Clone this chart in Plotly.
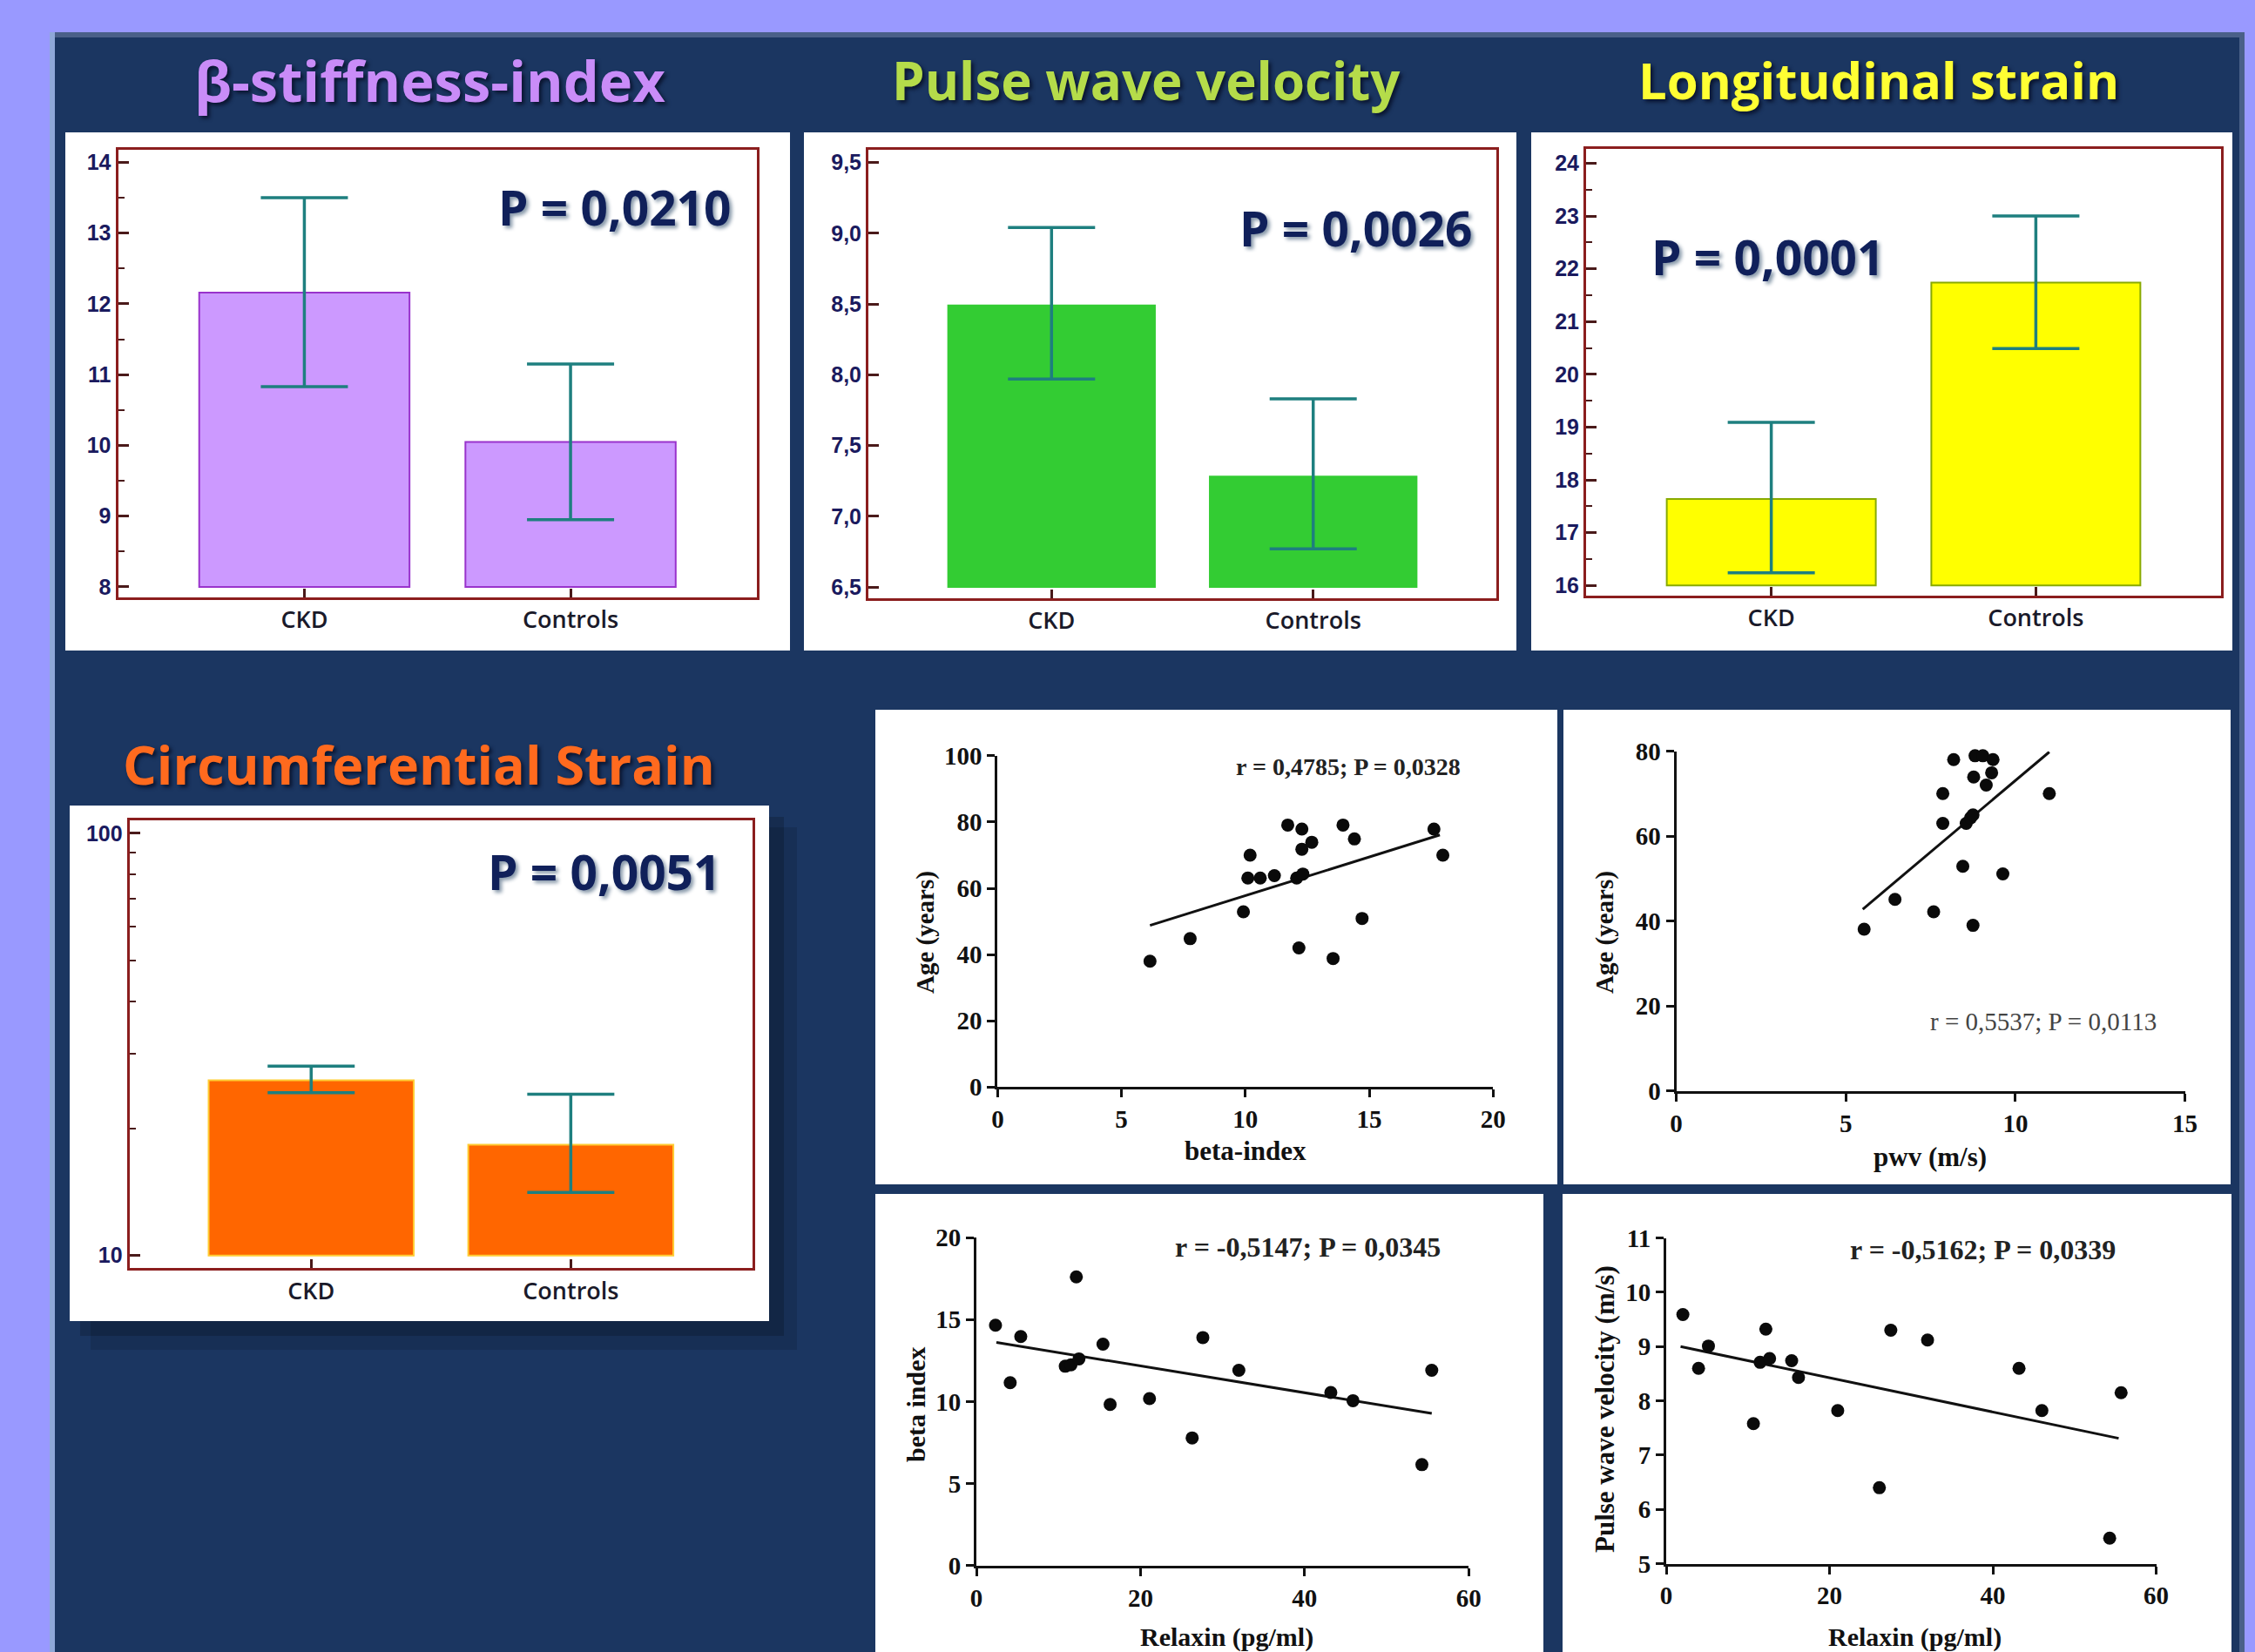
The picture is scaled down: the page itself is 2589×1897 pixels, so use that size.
import plotly.graph_objects as go

W, H = 2589, 1897

# ---------------- data ----------------
categories = ["CKD", "Controls"]

beta_mean = [12.16, 10.05]
beta_hi = [13.50, 11.15]
beta_lo = [10.83, 8.95]

pwv_mean = [8.49, 7.28]
pwv_hi = [9.04, 7.83]
pwv_lo = [7.97, 6.77]

ls_mean = [17.64, 21.74]
ls_hi = [19.09, 23.00]
ls_lo = [16.24, 20.49]

cs_mean = [26.0, 18.3]
cs_hi = [28.1, 24.1]
cs_lo = [24.3, 14.1]

p_values = ["P = 0,0210", "P = 0,0026", "P = 0,0001", "P = 0,0051"]
panel_titles = ["β-stiffness-index", "Pulse wave velocity", "Longitudinal strain", "Circumferential Strain"]

# scatter 1: beta-index vs age
s1_x = [6.15, 7.77, 9.92, 10.19, 10.10, 10.60, 11.17, 11.71, 12.07, 12.28, 12.28, 12.68, 12.32, 12.16, 13.54, 13.94, 14.40, 14.71, 17.61, 17.97]
s1_y = [38.0, 44.8, 52.9, 70.0, 63.1, 63.1, 63.8, 79.1, 63.1, 77.9, 71.8, 73.9, 64.3, 42.0, 38.8, 79.1, 74.9, 50.9, 77.9, 70.0]
fit1_x = [6.15, 17.85]
fit1_y = [48.8, 76.1]

# scatter 2: pwv vs age
s2_x = [5.54, 6.45, 7.59, 7.86, 7.86, 8.18, 8.45, 8.75, 8.77, 8.81, 9.04, 9.34, 9.30, 9.14, 8.55, 8.68, 8.75, 9.63, 11.00]
s2_y = [38.1, 45.1, 42.2, 70.0, 63.0, 78.0, 52.9, 39.0, 73.9, 78.9, 78.9, 78.0, 74.9, 72.0, 63.0, 64.3, 65.0, 51.1, 70.0]
fit2_x = [5.50, 11.00]
fit2_y = [42.8, 79.8]

# scatter 3: relaxin vs beta index
s3_x = [2.33, 4.12, 5.41, 10.83, 11.53, 12.18, 12.50, 15.43, 16.30, 21.10, 26.30, 27.60, 31.99, 43.20, 45.90, 54.30, 55.50]
s3_y = [14.65, 11.15, 13.96, 12.15, 12.24, 17.60, 12.60, 13.50, 9.82, 10.18, 7.78, 13.90, 11.90, 10.55, 10.05, 6.15, 11.90]
fit3_x = [2.44, 55.5]
fit3_y = [13.6, 9.27]

# scatter 4: relaxin vs pulse wave velocity
s4_x = [2.04, 3.96, 5.17, 10.68, 11.50, 12.20, 12.66, 15.36, 16.20, 21.00, 26.10, 27.50, 32.00, 43.20, 46.00, 54.30, 55.70]
s4_y = [9.59, 8.60, 9.01, 7.58, 8.71, 9.32, 8.78, 8.74, 8.43, 7.82, 6.40, 9.30, 9.12, 8.60, 7.82, 5.47, 8.15]
fit4_x = [1.76, 55.4]
fit4_y = [9.00, 7.31]

scatter_stats = ["r = 0,4785; P = 0,0328", "r = 0,5537; P = 0,0113",
                 "r = -0,5147; P = 0,0345", "r = -0,5162; P = 0,0339"]

# ---------------- styling ----------------
OUTER = "#9999FF"
NAVY = "#1B3661"
FRAME = "#8B1E1E"
ERR = "#1E7F7F"
TICKNAVY = "#1A1A5E"
TITLE_FONT = "Open Sans"
SERIF = "Liberation Serif"


def xd(a, b):
    return [a / W, b / W]


def yd(top, bottom):
    return [1 - bottom / H, 1 - top / H]


fig = go.Figure()
layout = {}
shapes = []
annotations = []


def rect(x0, y0, x1, y1, color, opacity=1.0):
    shapes.append(dict(type="rect", xref="paper", yref="paper",
                       x0=x0 / W, x1=x1 / W, y0=1 - y1 / H, y1=1 - y0 / H,
                       fillcolor=color, opacity=opacity,
                       line=dict(width=0), layer="below"))


def text(s, cx, cy, size, color, family, weight="bold", angle=0, shadow=None):
    f = dict(family=family, size=size, color=color, weight=weight)
    if shadow:
        f["shadow"] = shadow
    annotations.append(dict(text=s, x=cx / W, y=1 - cy / H, xref="paper", yref="paper",
                            xanchor="center", yanchor="middle", showarrow=False,
                            textangle=angle, font=f))


# backgrounds: navy poster panel with lighter rims
rect(57, 37, 2577, 1897, "#4A6088")
rect(63, 43, 2571, 1897, NAVY)
rect(57, 37, 63, 1897, "#8FA8D8")

# shadow of circumferential box
rect(104, 950, 915, 1550, "#000000", opacity=0.12)
rect(92, 938, 900, 1534, "#000000", opacity=0.18)

# white boxes
for (x0, y0, x1, y1) in [(75, 152, 907, 747), (923, 152, 1741, 747), (1758, 152, 2563, 747),
                         (80, 925, 883, 1517),
                         (1005, 815, 1788, 1360), (1795, 815, 2561, 1360),
                         (1005, 1371, 1772, 1897), (1794, 1371, 2562, 1897)]:
    rect(x0, y0, x1, y1, "white")


# ---------------- bar panels ----------------
def add_bar_panel(idx, means, his, los, base, color, line_color, xdom, ydom, yrange,
                  ytype="linear", yticks=None, minor=None, tickformat=None, dtick=None, tick0=None):
    s = "" if idx == 1 else str(idx)
    fig.add_trace(go.Bar(
        x=list(range(len(categories))), y=[m - base for m in means], base=base, width=0.79,
        marker=dict(color=color, line=dict(color=line_color, width=2)),
        error_y=dict(type="data", symmetric=False,
                     array=[h - m for h, m in zip(his, means)],
                     arrayminus=[m - l for m, l in zip(means, los)],
                     color=ERR, thickness=3.5, width=50),
        xaxis="x" + s, yaxis="y" + s, showlegend=False, hoverinfo="skip"))
    layout["xaxis" + s] = dict(
        domain=xdom, range=[-0.70, 1.70], tickmode="array", automargin=False,
        tickvals=list(range(len(categories))), ticktext=categories,
        ticks="inside", ticklen=10, tickwidth=3, tickcolor="#4A1A1A",
        showline=True, mirror=True, linecolor=FRAME, linewidth=3,
        showgrid=False, zeroline=False, anchor="y" + s, fixedrange=True,
        tickfont=dict(family="Open Sans", size=27, color="#1A1A2A", weight=600))
    ya = dict(domain=ydom, type=ytype, range=yrange, automargin=False,
              ticks="inside", ticklen=12, tickwidth=2.5, tickcolor="#4A1A1A",
              showline=True, mirror=True, linecolor=FRAME, linewidth=3,
              showgrid=False, zeroline=False, anchor="x" + s, fixedrange=True,
              tickfont=dict(family="Liberation Sans", size=25, color=TICKNAVY, weight="bold"))
    if yticks is not None:
        ya["tickmode"] = "array"
        ya["tickvals"] = yticks
        ya["ticktext"] = [str(v) for v in yticks]
    if dtick is not None:
        ya["dtick"] = dtick
        ya["tick0"] = tick0
    if tickformat:
        ya["tickformat"] = tickformat
    if minor is not None:
        ya["minor"] = minor
    layout["yaxis" + s] = ya


minor_half = dict(dtick=0.5, ticks="inside", ticklen=7, tickwidth=2, tickcolor="#4A1A1A", showgrid=False)

add_bar_panel(1, beta_mean, beta_hi, beta_lo, 8, "#CC99FF", "#9933CC",
              xd(135.5, 869), yd(172, 686), [7.852, 14.178], dtick=1, tick0=8,
              minor=dict(minor_half, tick0=8))
add_bar_panel(2, pwv_mean, pwv_hi, pwv_lo, 6.5, "#33CC33", "#33CC33",
              xd(997, 1718), yd(172, 687), [6.42, 9.59], dtick=0.5, tick0=6.5, tickformat=".1f")
add_bar_panel(3, ls_mean, ls_hi, ls_lo, 16, "#FFFF00", "#88AA00",
              xd(1821, 2550), yd(170.5, 683.5), [15.815, 24.28], dtick=1, tick0=16,
              minor=dict(minor_half, tick0=16))
add_bar_panel(4, cs_mean, cs_hi, cs_lo, 10, "#FF6600", "#FFCC33",
              xd(148.6, 864), yd(942.4, 1456.2), [0.970, 2.030], ytype="log", yticks=[10, 100],
              minor=dict(tickmode="array", tickvals=[20, 30, 40, 50, 60, 70, 80, 90],
                         ticks="inside", ticklen=7, tickwidth=2, tickcolor="#4A1A1A", showgrid=False))


# ---------------- scatter panels ----------------
def add_scatter_panel(idx, xs, ys, fx, fy, xdom, ydom, xrange, yrange, xt, yt):
    s = str(idx)
    fig.add_trace(go.Scatter(x=fx, y=fy, mode="lines", line=dict(color="#111111", width=3),
                             xaxis="x" + s, yaxis="y" + s, showlegend=False, hoverinfo="skip"))
    fig.add_trace(go.Scatter(x=xs, y=ys, mode="markers",
                             marker=dict(color="#0A0A0A", size=15, line=dict(width=0)),
                             cliponaxis=False,
                             xaxis="x" + s, yaxis="y" + s, showlegend=False, hoverinfo="skip"))
    common = dict(ticks="outside", ticklen=9, tickwidth=3, tickcolor="#111111",
                  showline=True, linecolor="#111111", linewidth=3, mirror=False,
                  showgrid=False, zeroline=False, fixedrange=True, automargin=False,
                  tickfont=dict(family=SERIF, size=29, color="#111111", weight="bold"))
    layout["xaxis" + s] = dict(common, domain=xdom, range=xrange, tickmode="array",
                               tickvals=xt, anchor="y" + s)
    layout["yaxis" + s] = dict(common, domain=ydom, range=yrange, tickmode="array",
                               tickvals=yt, anchor="x" + s)


add_scatter_panel(5, s1_x, s1_y, fit1_x, fit1_y, xd(1145.4, 1714.3), yd(867.9, 1248.2),
                  [0, 20], [0, 100], [0, 5, 10, 15, 20], [0, 20, 40, 60, 80, 100])
add_scatter_panel(6, s2_x, s2_y, fit2_x, fit2_y, xd(1924.5, 2508.6), yd(862.5, 1252.9),
                  [0, 15], [0, 80], [0, 5, 10, 15], [0, 20, 40, 60, 80])
add_scatter_panel(7, s3_x, s3_y, fit3_x, fit3_y, xd(1121, 1686.2), yd(1421, 1797.7),
                  [0, 60], [0, 20], [0, 20, 40, 60], [0, 5, 10, 15, 20])
add_scatter_panel(8, s4_x, s4_y, fit4_x, fit4_y, xd(1913, 2475.6), yd(1421.6, 1795.6),
                  [0, 60], [5, 11], [0, 20, 40, 60], [5, 6, 7, 8, 9, 10, 11])

# ---------------- texts ----------------
title_shadow = "3px 3px 4px #0A1530"
text(panel_titles[0], 493, 92, 65, "#C98CF8", TITLE_FONT, shadow=title_shadow)
text(panel_titles[1], 1316, 92, 60, "#B5DC4A", TITLE_FONT, shadow=title_shadow)
text(panel_titles[2], 2157, 92, 58, "#FFFF33", TITLE_FONT, shadow=title_shadow)
text(panel_titles[3], 481, 877, 61, "#FF6A1E", TITLE_FONT, shadow=title_shadow)

p_shadow = "3px 3px 4px #8899AA"
text(p_values[0], 705, 238, 55, "#10205A", TITLE_FONT, shadow=p_shadow)
text(p_values[1], 1556, 262, 55, "#10205A", TITLE_FONT, shadow=p_shadow)
text(p_values[2], 2029, 294, 55, "#10205A", TITLE_FONT, shadow=p_shadow)
text(p_values[3], 693, 1000, 55, "#10205A", TITLE_FONT, shadow=p_shadow)

text(scatter_stats[0], 1548, 880, 28, "#222222", SERIF)
text(scatter_stats[1], 2346, 1173, 29, "#444444", SERIF, weight="normal")
text(scatter_stats[2], 1502, 1432, 32, "#222222", SERIF)
text(scatter_stats[3], 2276, 1435, 32, "#222222", SERIF)

text("beta-index", 1430, 1321, 31, "#111111", SERIF)
text("Age (years)", 1062, 1071, 29, "#111111", SERIF, angle=-90)
text("pwv (m/s)", 2216, 1328, 31, "#111111", SERIF)
text("Age (years)", 1842, 1071, 29, "#111111", SERIF, angle=-90)
text("Relaxin (pg/ml)", 1408, 1880, 30, "#111111", SERIF)
text("beta index", 1051, 1613, 30, "#111111", SERIF, angle=-90)
text("Relaxin (pg/ml)", 2198, 1880, 30, "#111111", SERIF)
text("Pulse wave velocity (m/s)", 1842, 1618, 31, "#111111", SERIF, angle=-90)

fig.update_layout(
    width=W, height=H, margin=dict(l=0, r=0, t=0, b=0, autoexpand=False),
    paper_bgcolor=OUTER, plot_bgcolor="white",
    separators=",.", showlegend=False,
    shapes=shapes, annotations=annotations, **layout)

fig.write_html("out.html", config={"displayModeBar": False},
               post_script="document.body.style.margin='0';document.body.style.overflow='hidden';")
